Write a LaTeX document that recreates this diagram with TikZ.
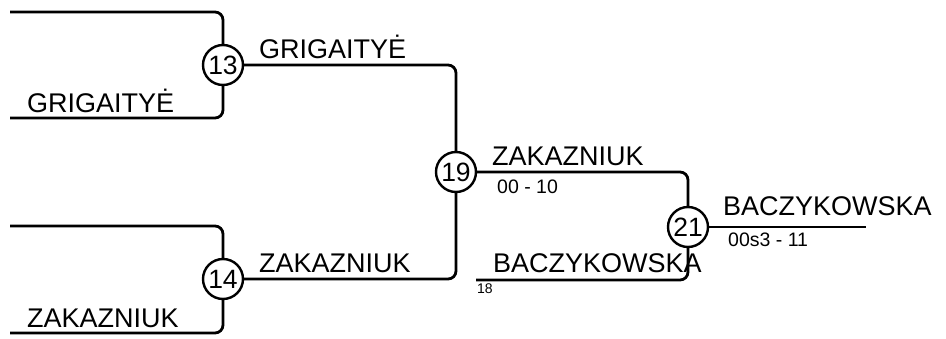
\documentclass[tikz,border=0pt]{standalone}
\usepackage{fontspec}
\setmainfont{Liberation Sans}
\begin{document}
\begin{tikzpicture}[x=1pt,y=-1pt,
  conn/.style={line width=2.8pt,rounded corners=8pt,line cap=butt},
  matchcirc/.style={circle,draw,line width=2.4pt,minimum size=40pt,inner sep=0pt,fill=white,font=\fontsize{26.5}{26.5}\selectfont},
  plabel/.style={anchor=base west,inner sep=0pt,font=\fontsize{27}{32}\selectfont},
  scorelabel/.style={anchor=base west,inner sep=0pt,font=\fontsize{19.5}{23}\selectfont},
  seedlabel/.style={anchor=base west,inner sep=0pt,font=\fontsize{14}{16}\selectfont}]
\useasboundingbox[fill=white] (0,0) rectangle (946,338);
% match circles
\node[matchcirc] (m13) at (223,65) {13};
\node[matchcirc] (m14) at (223,279) {14};
\node[matchcirc] (m19) at (456,172) {19};
\node[matchcirc] (m21) at (688,227) {21};
% free ends
\coordinate (a13) at (10,12);
\coordinate (b13) at (10,118);
\coordinate (a14) at (10,226);
\coordinate (b14) at (10,333);
\coordinate (b21) at (476,280);
\coordinate (out21) at (866,227);
% connectors
\draw[conn] (a13) -| (m13);
\draw[conn] (b13) -| (m13);
\draw[conn] (a14) -| (m14);
\draw[conn] (b14) -| (m14);
\draw[conn] (m13) -| (m19);
\draw[conn] (m14) -| (m19);
\draw[conn] (m19) -| (m21);
\draw[conn] (b21) -| (m21);
\draw[conn] (m21) -- (out21);
% labels
\node[plabel] (l1) at (27,112) {GRIGAITYĖ};
\node[plabel] (l2) at (27,327) {ZAKAZNIUK};
\node[plabel] (l3) at (259,58) {GRIGAITYĖ};
\node[plabel] (l4) at (259,272) {ZAKAZNIUK};
\node[plabel] (l5) at (492,165) {ZAKAZNIUK};
\node[scorelabel] (s5) at (497,193) {00 - 10};
\node[plabel] (l6) at (493,272) {BACZYKOWSKA};
\node[seedlabel] (d6) at (477,293) {18};
\node[plabel] (l7) at (723,215) {BACZYKOWSKA};
\node[scorelabel] (s7) at (728,246) {00s3 - 11};
\end{tikzpicture}
\end{document}
